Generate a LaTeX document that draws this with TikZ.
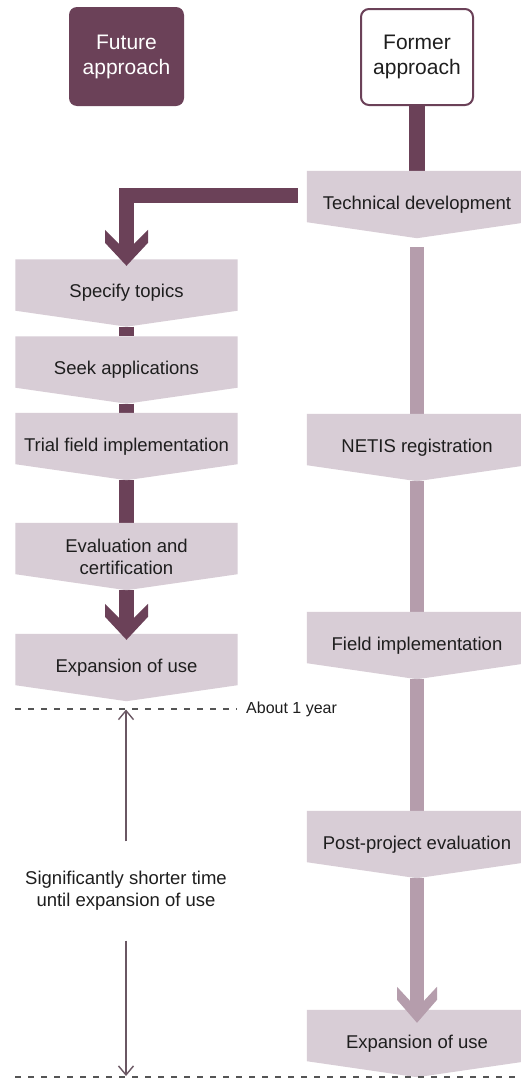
\documentclass[tikz,border=0pt]{standalone}
\usepackage{fontspec}
\setmainfont{Liberation Sans}
\usetikzlibrary{calc,arrows.meta}
\definecolor{plum}{HTML}{6B4158}
\definecolor{boxfill}{HTML}{D8CDD6}
\definecolor{paleshaft}{HTML}{B59DAC}
\definecolor{txt}{HTML}{1E1E1E}
\definecolor{dashgray}{HTML}{555555}
\definecolor{thinarrow}{HTML}{6A5763}
\pgfdeclarelayer{paper}
\pgfdeclarelayer{shafts}
\pgfdeclarelayer{fills}
\pgfsetlayers{paper,shafts,fills,main}
\tikzset{
  stepnode/.style={minimum width=222, minimum height=67, inner sep=0pt, align=center, text=txt,
    font=\fontsize{18.5}{22}\selectfont},
  rightstep/.style={stepnode, minimum width=220},
  headbox/.style={rounded corners=8pt, inner sep=0pt, align=center, font=\fontsize{21}{25}\selectfont},
  darkshaft/.style={plum, line width=15},
  paleline/.style={paleshaft, line width=14},
  dashline/.style={dashgray, line width=1.5, dash pattern=on 6pt off 7pt},
  thinarr/.style={thinarrow, line width=1.4, -{Straight Barb[length=9pt,width=15pt]}},
  chevheadL/.pic={\fill (-7.5,-22) -- (-21.5,-36) -- (-21.5,-23) -- (0,0) -- (21.5,-23) -- (21.5,-36) -- (7.5,-22) -- cycle;},
  chevheadR/.pic={\fill (-7,-22) -- (-20,-36) -- (-20,-23) -- (0,0) -- (20,-23) -- (20,-36) -- (7,-22) -- cycle;}
}
\newcommand\chevfill[1]{\begin{pgfonlayer}{fills}\fill[boxfill] (#1.north west) -- (#1.north east) -- ([yshift=16pt]#1.south east) -- (#1.south) -- ([yshift=16pt]#1.south west) -- cycle;\end{pgfonlayer}}
\begin{document}
\begin{tikzpicture}[x=1pt,y=-1pt]
\useasboundingbox (0,0) rectangle (521,1079);
\begin{pgfonlayer}{paper}
\fill[white] (0,0) rectangle (521,1079);
\end{pgfonlayer}

% header boxes
\node[headbox, fill=plum, text=white, minimum width=115, minimum height=99] (future) at (126.5,56.5) {Future\\approach};
\node[headbox, draw=plum, line width=2pt, fill=white, text=txt, minimum width=112, minimum height=96] (former) at (417,57) {Former\\approach};

% left steps
\node[stepnode] (spec) at (126.5,293) {Specify topics};
\node[stepnode] (seek) at (126.5,370) {Seek applications};
\node[stepnode] (trial) at (126.5,446.5) {Trial field implementation};
\node[stepnode] (evalc) at (126.5,556.5) {Evaluation and\\certification};
\node[stepnode] (expL) at (126.5,667.5) {Expansion of use};

% right steps
\node[rightstep] (tech) at (417,204.5) {Technical development};
\node[rightstep] (netis) at (417,447.5) {NETIS registration};
\node[rightstep] (field) at (417,645.5) {Field implementation};
\node[rightstep] (post) at (417,844.5) {Post-project evaluation};
\node[rightstep] (expR) at (417,1043.5) {Expansion of use};

\chevfill{spec}\chevfill{seek}\chevfill{trial}\chevfill{evalc}\chevfill{expL}
\chevfill{tech}\chevfill{netis}\chevfill{field}\chevfill{post}\chevfill{expR}

% connectors
\begin{pgfonlayer}{shafts}
\draw[plum, line width=16] (former.south) -- (tech.north);
\draw[darkshaft] ([xshift=-9pt,yshift=9pt]tech.west) -| ([yshift=13.5pt]spec.north);
\draw[darkshaft] (spec.south) -- (seek.north);
\draw[darkshaft] (seek.south) -- (trial.north);
\draw[darkshaft] (trial.south) -- (evalc.north);
\draw[darkshaft] (evalc.south) -- ([yshift=14pt]expL.north);
\draw[paleline] ([yshift=-9pt]tech.south) -- (netis.north);
\draw[paleline] (netis.south) -- (field.north);
\draw[paleline] (field.south) -- (post.north);
\draw[paleline] (post.south) -- ([yshift=7pt]expR.north);
\end{pgfonlayer}
\pic[color=plum] at ([yshift=-6.5pt]spec.north) {chevheadL};
\pic[color=plum] at ([yshift=-6pt]expL.north) {chevheadL};
\pic[color=paleshaft] at ([yshift=-13pt]expR.north) {chevheadR};

% time markers
\coordinate (d1) at (15,709);
\node[anchor=west, inner xsep=9pt, inner ysep=0pt, text=txt, font=\fontsize{16}{19}\selectfont] (about) at (237,709) {About 1 year};
\draw[dashline] (d1) -- (about);
\coordinate (d2a) at (15,1077);
\coordinate (d2b) at (521,1077);
\draw[dashline, line width=2] (d2a) -- (d2b);

\node[align=center, inner sep=0pt, minimum height=99, text=txt, font=\fontsize{18.5}{22}\selectfont] (sig) at (126,891) {Significantly shorter time\\until expansion of use};
\coordinate (top1) at (126,709.5);
\coordinate (bot1) at (126,1076);
\draw[thinarr] (sig.north) -- (top1);
\draw[thinarr] (sig.south) -- (bot1);
\end{tikzpicture}
\end{document}
